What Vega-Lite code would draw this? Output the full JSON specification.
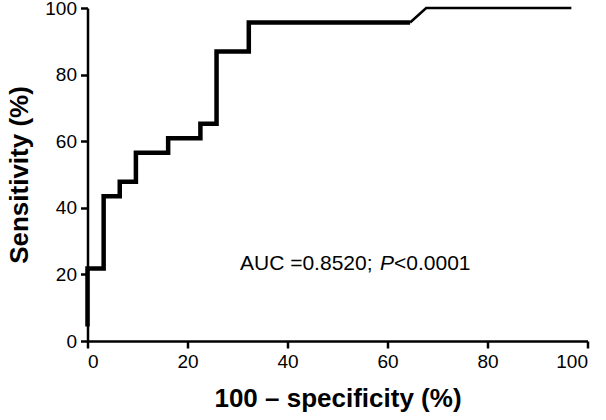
{
  "$schema": "https://vega.github.io/schema/vega-lite/v6.json",
  "width": 500,
  "height": 333,
  "autosize": {"type": "none"},
  "padding": {"left": 87.5, "top": 8, "right": 18.5, "bottom": 79},
  "background": "white",
  "config": {
    "view": {"stroke": null},
    "font": "Liberation Sans",
    "axis": {
      "grid": false,
      "domainColor": "black",
      "domainWidth": 2.5,
      "tickColor": "black",
      "tickWidth": 2.5,
      "tickSize": 7,
      "labelColor": "black",
      "labelFont": "Liberation Sans",
      "labelFontSize": 19,
      "titleFont": "Liberation Sans",
      "titleFontSize": 26,
      "titleFontWeight": "bold",
      "titleColor": "black"
    }
  },
  "datasets": {
    "roc": [
      {"fpr": 0, "sens": 4.35, "part": "main", "ord": 1},
      {"fpr": 0, "sens": 21.74, "part": "main", "ord": 2},
      {"fpr": 3.23, "sens": 21.74, "part": "main", "ord": 3},
      {"fpr": 3.23, "sens": 43.48, "part": "main", "ord": 4},
      {"fpr": 6.45, "sens": 43.48, "part": "main", "ord": 5},
      {"fpr": 6.45, "sens": 47.83, "part": "main", "ord": 6},
      {"fpr": 9.68, "sens": 47.83, "part": "main", "ord": 7},
      {"fpr": 9.68, "sens": 56.52, "part": "main", "ord": 8},
      {"fpr": 16.13, "sens": 56.52, "part": "main", "ord": 9},
      {"fpr": 16.13, "sens": 60.87, "part": "main", "ord": 10},
      {"fpr": 22.58, "sens": 60.87, "part": "main", "ord": 11},
      {"fpr": 22.58, "sens": 65.22, "part": "main", "ord": 12},
      {"fpr": 25.81, "sens": 65.22, "part": "main", "ord": 13},
      {"fpr": 25.81, "sens": 86.96, "part": "main", "ord": 14},
      {"fpr": 32.26, "sens": 86.96, "part": "main", "ord": 15},
      {"fpr": 32.26, "sens": 95.65, "part": "main", "ord": 16},
      {"fpr": 64.52, "sens": 95.65, "part": "main", "ord": 17},
      {"fpr": 64.52, "sens": 95.65, "part": "tail", "ord": 18},
      {"fpr": 67.74, "sens": 100, "part": "tail", "ord": 19},
      {"fpr": 96.77, "sens": 100, "part": "tail", "ord": 20}
    ],
    "label": [
      {"x": 30.5, "y": 21.3, "t": "AUC =0.8520;", "style": "normal"},
      {"x": 58.5, "y": 21.3, "t": "P", "style": "italic"},
      {"x": 61.3, "y": 21.3, "t": "<0.0001", "style": "normal"}
    ]
  },
  "layer": [
    {
      "data": {"name": "roc"},
      "mark": {"type": "line", "color": "black", "strokeJoin": "miter", "strokeCap": "butt"},
      "encoding": {
        "x": {
          "field": "fpr", "type": "quantitative",
          "scale": {"domain": [0, 100], "nice": false},
          "axis": {"values": [0, 20, 40, 60, 80, 100], "title": "100 – specificity (%)", "titlePadding": 14, "labelPadding": 4}
        },
        "y": {
          "field": "sens", "type": "quantitative",
          "scale": {"domain": [0, 100], "nice": false},
          "axis": {"values": [0, 20, 40, 60, 80, 100], "title": "Sensitivity (%)", "titlePadding": 12, "labelPadding": 4}
        },
        "order": {"field": "ord"},
        "detail": {"field": "part"},
        "strokeWidth": {
          "field": "part", "type": "nominal",
          "scale": {"domain": ["main", "tail"], "range": [4.5, 2.5]},
          "legend": null
        }
      }
    },
    {
      "data": {"name": "label"},
      "transform": [{"filter": "datum.style === 'normal'"}],
      "mark": {"type": "text", "align": "left", "baseline": "alphabetic", "fontSize": 21, "color": "black", "font": "Liberation Sans"},
      "encoding": {
        "x": {"field": "x", "type": "quantitative"},
        "y": {"field": "y", "type": "quantitative"},
        "text": {"field": "t"}
      }
    },
    {
      "data": {"name": "label"},
      "transform": [{"filter": "datum.style === 'italic'"}],
      "mark": {"type": "text", "align": "left", "baseline": "alphabetic", "fontSize": 21, "fontStyle": "italic", "color": "black", "font": "Liberation Sans"},
      "encoding": {
        "x": {"field": "x", "type": "quantitative"},
        "y": {"field": "y", "type": "quantitative"},
        "text": {"field": "t"}
      }
    }
  ]
}
